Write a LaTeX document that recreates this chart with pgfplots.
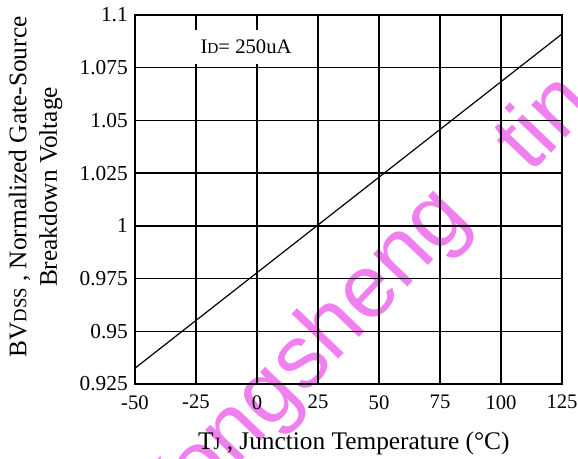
\documentclass[border=0pt]{standalone}
\usepackage{fontspec}
\setmainfont{Liberation Serif}
\newfontfamily\wmfont{Liberation Sans}
\usepackage{pgfplots}
\pgfplotsset{compat=1.18}
\definecolor{wmpink}{RGB}{240,128,240}

\begin{document}
\begin{tikzpicture}
% diagonal watermark, drawn underneath the grid
\begin{scope}[every node/.style={rotate=46.3, anchor=base west, inner sep=0pt,
    text=wmpink, font=\wmfont\fontsize{67}{80}\selectfont}]
  \node at (22.8pt,-117.5pt) {Yongsheng};
  \node at (296.3pt,156.6pt) {tin};
\end{scope}

\begin{axis}[
  scale only axis,
  width=320.25pt, height=276.75pt,
  xmin=-50, xmax=125, ymin=0.925, ymax=1.1,
  xtick={-50,-25,0,25,50,75,100,125},
  xticklabels={-50,-25,0,25,50,75,100,125},
  ytick={0.925,0.95,0.975,1,1.025,1.05,1.075,1.1},
  yticklabels={0.925,0.95,0.975,1,1.025,1.05,1.075,1.1},
  grid=major,
  major grid style={black, line width=1pt},
  axis line style={black, line width=1pt},
  major tick length=0pt,
  /pgf/number format/assume math mode=true,
  tick label style={font=\fontsize{15.5}{18}\selectfont, inner sep=0pt},
  xticklabel style={anchor=north, yshift=-8.25pt},
  yticklabel style={anchor=east, xshift=-5.25pt, font=\fontsize{16}{18}\selectfont},
  xlabel={T{\fontsize{13}{15}\selectfont J} , Junction Temperature (°C)},
  xlabel style={font=\fontsize{19}{22.8}\selectfont, inner sep=0pt,
    at={(axis description cs:0.5,0)}, anchor=base, yshift=-49.5pt, xshift=4pt},
  ylabel={BV{\fontsize{14}{16}\selectfont DSS} , Normalized Gate-Source\\Breakdown Voltage},
  ylabel style={font=\fontsize{19}{22.8}\selectfont, inner sep=0pt, align=center,
    at={(axis description cs:-0.1698,0.534)}, anchor=south},
]
\addplot[black, line width=0.9pt] coordinates {(-50,0.9325) (125,1.0910)};
\node[fill=white, inner xsep=14pt, inner ysep=7.5pt,
  font=\fontsize{15.5}{18}\selectfont] at (axis cs:-4.5,1.0848)
  {I{\fontsize{11.5}{14}\selectfont D}= 250uA};
\end{axis}
\pgfresetboundingbox
\useasboundingbox (-101.25pt,-56.25pt) rectangle (332.25pt,288pt);
\end{tikzpicture}
\end{document}
